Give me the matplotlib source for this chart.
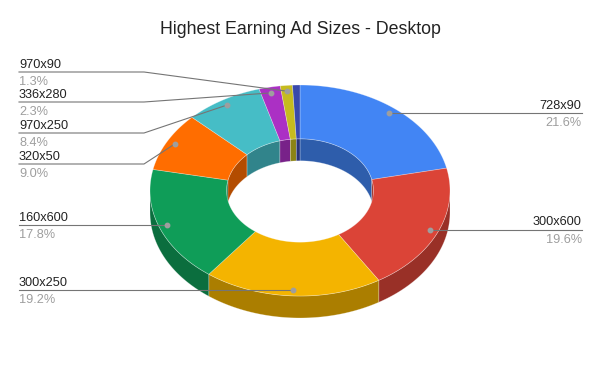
import numpy as np
import matplotlib
matplotlib.use('Agg')
import matplotlib.pyplot as plt
from matplotlib.patches import Polygon

plt.rcParams['font.family'] = ['Liberation Sans', 'DejaVu Sans']

# Data (percent share, clockwise from 12 o'clock)
sizes = ['728x90', '300x600', '300x250', '160x600', '320x50', '970x250', '336x280', '970x90', 'Other']
shares = [21.6, 19.6, 19.2, 17.8, 9.0, 8.4, 2.3, 1.3, 0.8]
colors = ['#4285f4', '#db4437', '#f4b400', '#0f9d58', '#ff6d00', '#46bdc6', '#ab30c4', '#c6bb1e', '#3949ab']

# Layout
W, H = 600, 371
cx, cy = 300, 190.5
rx, ry = 150, 105.5
hole = 0.49
depth = 22
dot_r = 0.945
# leader-line heights for the crowded labels on the upper left (None = level with the dot)
label_y = [None, None, None, None, 164, 133, 102, 72, None]


def darker(c, f=0.7):
    rgb = np.array(matplotlib.colors.to_rgb(c))
    return tuple(rgb * f)


def arc(a0, a1, r, dy=0, n=60):
    t = np.radians(np.linspace(a0, a1, n))
    return np.column_stack([cx + rx * r * np.sin(t), cy - ry * r * np.cos(t) + dy])


def clip(a0, a1, lo, hi):
    s, e = max(a0, lo), min(a1, hi)
    return (s, e) if e > s else None


fig = plt.figure(figsize=(W / 100, H / 100), dpi=100)
ax = fig.add_axes([0, 0, 1, 1])
ax.set_xlim(0, W)
ax.set_ylim(H, 0)
ax.axis('off')

total = sum(shares)
bounds = np.concatenate([[0], np.cumsum(shares)]) / total * 360
edge = dict(edgecolor=(1, 1, 1, 0.35), linewidth=0.5)

# inner back wall (visible through the hole)
for i, c in enumerate(colors):
    a0, a1 = bounds[i], bounds[i + 1]
    for lo, hi in [(0, 90), (270, 360)]:
        seg = clip(a0, a1, lo, hi)
        if seg:
            pts = np.vstack([arc(seg[0], seg[1], hole), arc(seg[1], seg[0], hole, depth)])
            ax.add_patch(Polygon(pts, closed=True, facecolor=darker(c), **edge))

# outer front wall
for i, c in enumerate(colors):
    seg = clip(bounds[i], bounds[i + 1], 90, 270)
    if seg:
        pts = np.vstack([arc(seg[0], seg[1], 1), arc(seg[1], seg[0], 1, depth)])
        ax.add_patch(Polygon(pts, closed=True, facecolor=darker(c), **edge))

# top face
for i, c in enumerate(colors):
    a0, a1 = bounds[i], bounds[i + 1]
    pts = np.vstack([arc(a0, a1, 1), arc(a1, a0, hole)])
    ax.add_patch(Polygon(pts, closed=True, facecolor=c, **edge))

# labels with leader lines
line_kw = dict(color='#757575', linewidth=0.8, zorder=5)
for i, name in enumerate(sizes):
    if shares[i] < 1:
        continue
    mid = (bounds[i] + bounds[i + 1]) / 2
    dx, dy = arc(mid, mid, dot_r, n=1)[0]
    ly = label_y[i] if label_y[i] is not None else dy
    if mid < 180:
        xs = [dx, 456, 581.7] if abs(ly - dy) > 1 else [dx, 581.7]
        tx, ha = 581.7, 'right'
    else:
        xs = [dx, 144, 19] if abs(ly - dy) > 1 else [dx, 19]
        tx, ha = 19, 'left'
    ys = [dy] + [ly] * (len(xs) - 1)
    ax.plot(xs, ys, **line_kw)
    ax.plot(dx, dy, 'o', color='#9e9e9e', markersize=3.2, zorder=6)
    ax.text(tx, ly - 4.3, name, ha=ha, va='baseline', fontsize=9.2, color='#222222')
    ax.text(tx, ly + 13, f'{shares[i]:.1f}%', ha=ha, va='baseline', fontsize=9.2, color='#9e9e9e')

ax.text(W / 2, 30, 'Highest Earning Ad Sizes - Desktop', ha='center', va='center',
        fontsize=12.8, color='#222222')

fig.savefig('out.png', dpi=100, facecolor='white')
